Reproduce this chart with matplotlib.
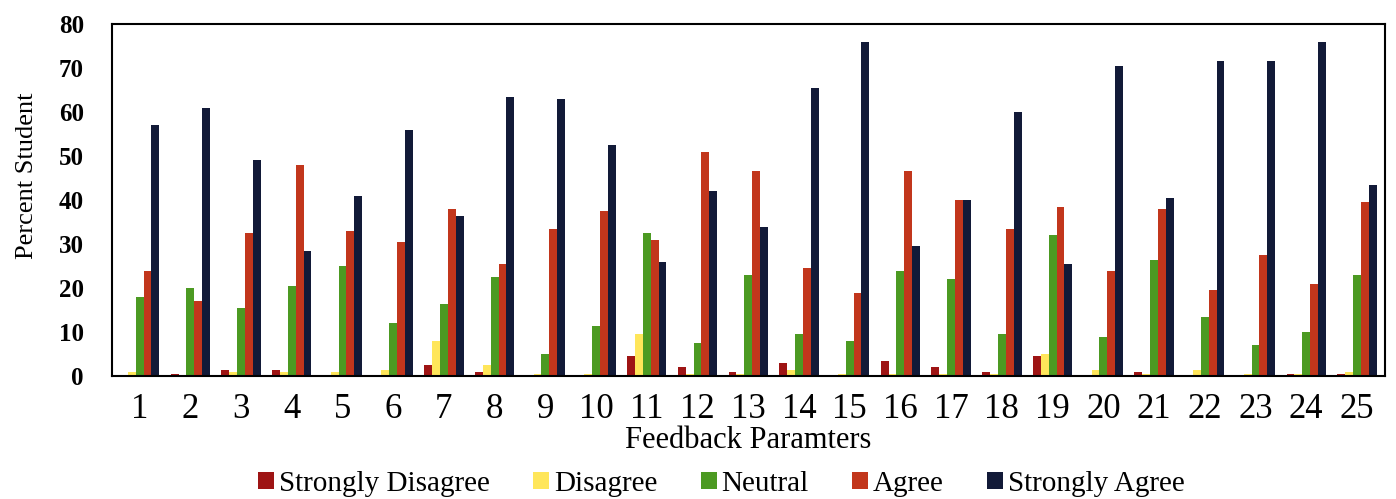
import numpy as np
import matplotlib.pyplot as plt

# Data
params = [str(i) for i in range(1, 26)]
strongly_disagree = [0, 0.5, 1.5, 1.5, 0, 0, 2.5, 1, 0, 0, 4.5, 2, 1, 3, 0, 3.5, 2, 1, 4.5, 0, 1, 0, 0, 0.5, 0.5]
disagree = [1, 0, 1, 1, 1, 1.5, 8, 2.5, 0.5, 0.5, 9.5, 0.5, 0.5, 1.5, 0.5, 0.5, 0.5, 0.5, 5, 1.5, 0.5, 1.5, 0.5, 0.5, 1]
neutral = [18, 20, 15.5, 20.5, 25, 12, 16.5, 22.5, 5, 11.5, 32.5, 7.5, 23, 9.5, 8, 24, 22, 9.5, 32, 9, 26.5, 13.5, 7, 10, 23]
agree = [24, 17, 32.5, 48, 33, 30.5, 38, 25.5, 33.5, 37.5, 31, 51, 46.5, 24.5, 19, 46.5, 40, 33.5, 38.5, 24, 38, 19.5, 27.5, 21, 39.5]
strongly_agree = [57, 61, 49, 28.5, 41, 56, 36.5, 63.5, 63, 52.5, 26, 42, 34, 65.5, 76, 29.5, 40, 60, 25.5, 70.5, 40.5, 71.5, 71.5, 76, 43.5]

series = [strongly_disagree, disagree, neutral, agree, strongly_agree]
labels = ["Strongly Disagree", "Disagree", "Neutral", "Agree", "Strongly Agree"]
colors = ["#9e1414", "#ffe65a", "#4c9a22", "#c2361c", "#121a38"]

plt.rcParams['font.family'] = ['Liberation Serif', 'DejaVu Serif']

fig = plt.figure(figsize=(13.96, 4.99), dpi=100)
ax = fig.add_axes([0.080, 0.246, 0.912, 0.706])

x = np.arange(len(params))
w = 0.155
for i, (vals, lab, col) in enumerate(zip(series, labels, colors)):
    ax.bar(x + (i - 2) * w, vals, width=w, color=col, label=lab)

ax.set_xlim(-0.55, len(params) - 0.45)
ax.set_ylim(0, 80)
ax.set_yticks(range(0, 81, 10))
ax.set_xticks(x)
ax.set_xticklabels(params, fontsize=25)
for t in ax.get_yticklabels():
    t.set_fontsize(18)
    t.set_fontweight('bold')
ax.tick_params(axis='x', length=0, pad=12)
ax.tick_params(axis='y', length=0, pad=20)
for s in ax.spines.values():
    s.set_linewidth(1.5)
    s.set_color('black')

ax.set_xlabel("Feedback Paramters", fontsize=22, labelpad=0)
ax.set_ylabel("Percent Student", fontsize=19)
ax.yaxis.set_label_coords(-0.058, 0.57)

ax.legend(loc='center', bbox_to_anchor=(0.479, -0.305), ncol=5, frameon=False,
          fontsize=21, handlelength=0.55, handleheight=0.55, handletextpad=0.15,
          columnspacing=1.5, borderpad=0)

fig.savefig("out.png", dpi=100)
